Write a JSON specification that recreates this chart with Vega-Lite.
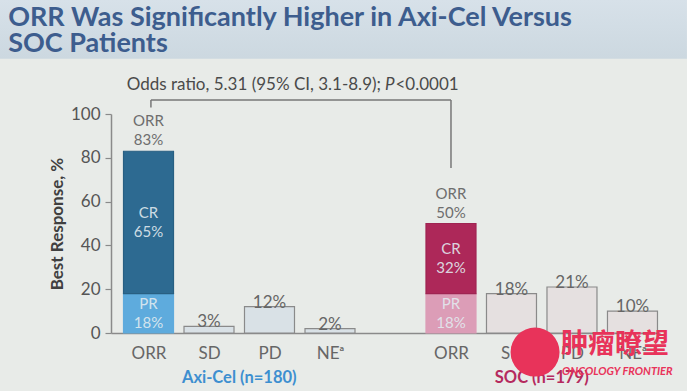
{
  "$schema": "https://vega.github.io/schema/vega-lite/v6.json",
  "width": 549,
  "height": 219,
  "padding": 0,
  "background": "#e8ebe8",
  "config": {"view": {"stroke": null}, "font": "Lato"},
  "data": {"values": [{}]},
  "datasets": {
    "bars": [
      {"slot": 1, "key": "Axi-PR", "seg": "PR", "ord": 1, "v": 18, "lab": "PR\n18%"},
      {"slot": 1, "key": "Axi-CR", "seg": "CR", "ord": 2, "v": 65, "lab": "CR\n65%"},
      {"slot": 2, "key": "Axi-oth", "seg": "SD", "ord": 1, "v": 3, "lab": "3%"},
      {"slot": 3, "key": "Axi-oth", "seg": "PD", "ord": 1, "v": 12, "lab": "12%"},
      {"slot": 4, "key": "Axi-oth", "seg": "NE", "ord": 1, "v": 2, "lab": "2%"},
      {"slot": 6, "key": "SOC-PR", "seg": "PR", "ord": 1, "v": 18, "lab": "PR\n18%"},
      {"slot": 6, "key": "SOC-CR", "seg": "CR", "ord": 2, "v": 32, "lab": "CR\n32%"},
      {"slot": 7, "key": "SOC-oth", "seg": "SD", "ord": 1, "v": 18, "lab": "18%"},
      {"slot": 8, "key": "SOC-oth", "seg": "PD", "ord": 1, "v": 21, "lab": "21%"},
      {"slot": 9, "key": "SOC-oth", "seg": "NE", "ord": 1, "v": 10, "lab": "10%"}
    ],
    "orr": [
      {"slot": 1, "t": 83, "lab": "ORR\n83%"},
      {"slot": 6, "t": 50, "lab": "ORR\n50%"}
    ]
  },
  "layer": [
    {
      "mark": {"type": "rect", "fill": "#e8ebe8", "fillOpacity": 0},
      "encoding": {
        "x": {"datum": -1.4547, "type": "quantitative", "scale": {"domain": [0.38, 9.455], "nice": false, "zero": false, "padding": 0}},
        "x2": {"datum": 9.9},
        "y": {"datum": -26.48, "type": "quantitative", "scale": {"domain": [0, 100], "nice": false, "zero": false, "padding": 0}},
        "y2": {"datum": 152.05}
      }
    },
    {
      "mark": {"type": "rect", "fill": {"gradient": "linear", "x1": 0, "y1": 0, "x2": 0, "y2": 1, "stops": [{"offset": 0, "color": "#d7e1e9"}, {"offset": 1, "color": "#ccd8e0"}]}},
      "encoding": {
        "x": {"datum": -1.4547, "type": "quantitative"},
        "x2": {"datum": 9.9},
        "y": {"datum": 125.2, "type": "quantitative"},
        "y2": {"datum": 152.05}
      }
    },
    {
      "mark": {"type": "text", "align": "left", "baseline": "alphabetic", "lineBreak": "\n", "lineHeight": 26, "font": "Lato", "fontWeight": "bold", "fontSize": 27, "fill": "#3d5d8e"},
      "encoding": {
        "x": {"datum": -1.32, "type": "quantitative"},
        "y": {"datum": 140.2, "type": "quantitative"},
        "text": {"value": "ORR Was Significantly Higher in Axi-Cel Versus\nSOC Patients"}
      }
    },
    {
      "data": {"name": "bars"},
      "mark": {"type": "bar", "orient": "vertical", "size": 50, "strokeWidth": 1.2},
      "encoding": {
        "x": {
          "field": "slot", "type": "quantitative",
          "scale": {"domain": [0.38, 9.455], "nice": false, "zero": false, "padding": 0},
          "axis": {
            "values": [1, 2, 3, 4, 6, 7, 8, 9],
            "labelExpr": "datum.value == 1 || datum.value == 6 ? 'ORR' : datum.value == 2 || datum.value == 7 ? 'SD' : datum.value == 3 || datum.value == 8 ? 'PD' : 'NEᵃ'",
            "domain": true, "domainColor": "#8a8a8a", "domainWidth": 1.5,
            "ticks": false, "grid": false, "title": null,
            "labelFont": "Lato", "labelFontSize": 17, "labelColor": "#666666", "labelPadding": 12, "labelFlush": false
          }
        },
        "y": {
          "field": "v", "type": "quantitative", "stack": "zero",
          "scale": {"domain": [0, 100], "nice": false, "zero": false, "padding": 0},
          "axis": {
            "values": [0, 20, 40, 60, 80, 100],
            "domain": true, "domainColor": "#8a8a8a", "domainWidth": 1.5,
            "grid": false, "tickSize": 6, "tickColor": "#8a8a8a", "tickWidth": 1.2,
            "labelFont": "Lato", "labelFontSize": 17, "labelColor": "#555555", "labelPadding": 5, "labelFlush": false,
            "title": "Best Response, %", "titleFont": "Lato", "titleFontWeight": "bold", "titleFontSize": 17, "titleColor": "#404040", "titlePadding": 4
          }
        },
        "order": {"field": "ord"},
        "color": {
          "field": "key", "type": "nominal", "legend": null,
          "scale": {"domain": ["Axi-CR", "Axi-PR", "Axi-oth", "SOC-CR", "SOC-PR", "SOC-oth"], "range": ["#2d6a91", "#5eabdd", "#d9e1e6", "#ad2859", "#dc9db7", "#e5e0e0"]}
        },
        "stroke": {
          "field": "key", "type": "nominal", "legend": null,
          "scale": {"domain": ["Axi-CR", "Axi-PR", "Axi-oth", "SOC-CR", "SOC-PR", "SOC-oth"], "range": ["#285f82", "#5eabdd", "#8a8a8a", "#9f2452", "#dc9db7", "#8a8a8a"]}
        }
      }
    },
    {
      "data": {"name": "bars"},
      "transform": [{"filter": {"field": "seg", "oneOf": ["PR", "CR"]}}],
      "mark": {"type": "text", "align": "center", "baseline": "middle", "lineBreak": "\n", "lineHeight": 19, "dy": -9.5, "font": "Lato", "fontSize": 15, "fill": "#e2ebf0", "fillOpacity": 0.9},
      "encoding": {
        "x": {"field": "slot", "type": "quantitative"},
        "y": {"field": "v", "type": "quantitative", "stack": "zero", "bandPosition": 0.5},
        "order": {"field": "ord"},
        "detail": {"field": "seg"},
        "text": {"field": "lab"}
      }
    },
    {
      "data": {"name": "orr"},
      "mark": {"type": "text", "align": "center", "baseline": "bottom", "lineBreak": "\n", "lineHeight": 19, "dy": -22, "font": "Lato", "fontSize": 15, "fill": "#6e6e6e"},
      "encoding": {
        "x": {"field": "slot", "type": "quantitative"},
        "y": {"field": "t", "type": "quantitative"},
        "text": {"field": "lab"}
      }
    },
    {
      "data": {"name": "bars"},
      "transform": [{"filter": {"field": "seg", "oneOf": ["SD", "PD", "NE"]}}],
      "mark": {"type": "text", "align": "center", "baseline": "alphabetic", "dy": 1, "font": "Lato", "fontSize": 17, "fill": "#666666"},
      "encoding": {
        "x": {"field": "slot", "type": "quantitative"},
        "y": {"field": "v", "type": "quantitative", "stack": null},
        "text": {"field": "lab"}
      }
    },
    {
      "mark": {"type": "rule", "stroke": "#777777", "strokeWidth": 1.5},
      "encoding": {
        "x": {"datum": 1.04, "type": "quantitative"},
        "x2": {"datum": 6},
        "y": {"datum": 106.4, "type": "quantitative"}
      }
    },
    {
      "mark": {"type": "rule", "stroke": "#777777", "strokeWidth": 1.5},
      "encoding": {
        "x": {"datum": 1.04, "type": "quantitative"},
        "y": {"datum": 106.4, "type": "quantitative"},
        "y2": {"datum": 103}
      }
    },
    {
      "mark": {"type": "rule", "stroke": "#777777", "strokeWidth": 1.5},
      "encoding": {
        "x": {"datum": 6, "type": "quantitative"},
        "y": {"datum": 106.4, "type": "quantitative"},
        "y2": {"datum": 75.3}
      }
    },
    {
      "mark": {"type": "text", "align": "right", "baseline": "middle", "dx": -4, "font": "Lato", "fontSize": 17, "fill": "#4a4a4a"},
      "encoding": {
        "x": {"datum": 4.909, "type": "quantitative"},
        "y": {"datum": 113.2, "type": "quantitative"},
        "text": {"value": "Odds ratio, 5.31 (95% CI, 3.1-8.9);"}
      }
    },
    {
      "mark": {"type": "text", "align": "left", "baseline": "middle", "font": "Lato", "fontStyle": "italic", "fontSize": 17, "fill": "#4a4a4a"},
      "encoding": {
        "x": {"datum": 4.909, "type": "quantitative"},
        "y": {"datum": 113.2, "type": "quantitative"},
        "text": {"value": "P"}
      }
    },
    {
      "mark": {"type": "text", "align": "left", "baseline": "middle", "dx": 10.5, "font": "Lato", "fontSize": 17, "fill": "#4a4a4a"},
      "encoding": {
        "x": {"datum": 4.909, "type": "quantitative"},
        "y": {"datum": 113.2, "type": "quantitative"},
        "text": {"value": "<0.0001"}
      }
    },
    {
      "mark": {"type": "text", "align": "center", "baseline": "middle", "font": "Lato", "fontWeight": "bold", "fontSize": 16.5, "fill": "#3d8fd0"},
      "encoding": {
        "x": {"datum": 2.5, "type": "quantitative"},
        "y": {"datum": -20.5, "type": "quantitative"},
        "text": {"value": "Axi-Cel (n=180)"}
      }
    },
    {
      "mark": {"type": "text", "align": "center", "baseline": "middle", "font": "Lato", "fontWeight": "bold", "fontSize": 16.5, "fill": "#b52a5e"},
      "encoding": {
        "x": {"datum": 7.5, "type": "quantitative"},
        "y": {"datum": -20.5, "type": "quantitative"},
        "text": {"value": "SOC (n=179)"}
      }
    },
    {
      "mark": {"type": "point", "shape": "circle", "filled": true, "size": 2400, "fill": "#e8335a", "opacity": 1},
      "encoding": {
        "x": {"datum": 7.39, "type": "quantitative"},
        "y": {"datum": -8.7, "type": "quantitative"}
      }
    },
    {
      "mark": {"type": "text", "align": "center", "baseline": "middle", "font": "Noto Sans CJK SC", "fontWeight": "bold", "fontSize": 27, "fill": "#e8335a"},
      "encoding": {
        "x": {"datum": 8.71, "type": "quantitative"},
        "y": {"datum": -5.5, "type": "quantitative"},
        "text": {"value": "肿瘤瞭望"}
      }
    },
    {
      "mark": {"type": "text", "align": "center", "baseline": "middle", "font": "Lato", "fontWeight": "bold", "fontStyle": "italic", "fontSize": 11, "fill": "#e8335a"},
      "encoding": {
        "x": {"datum": 8.75, "type": "quantitative"},
        "y": {"datum": -17.8, "type": "quantitative"},
        "text": {"value": "ONCOLOGY FRONTIER"}
      }
    }
  ]
}
